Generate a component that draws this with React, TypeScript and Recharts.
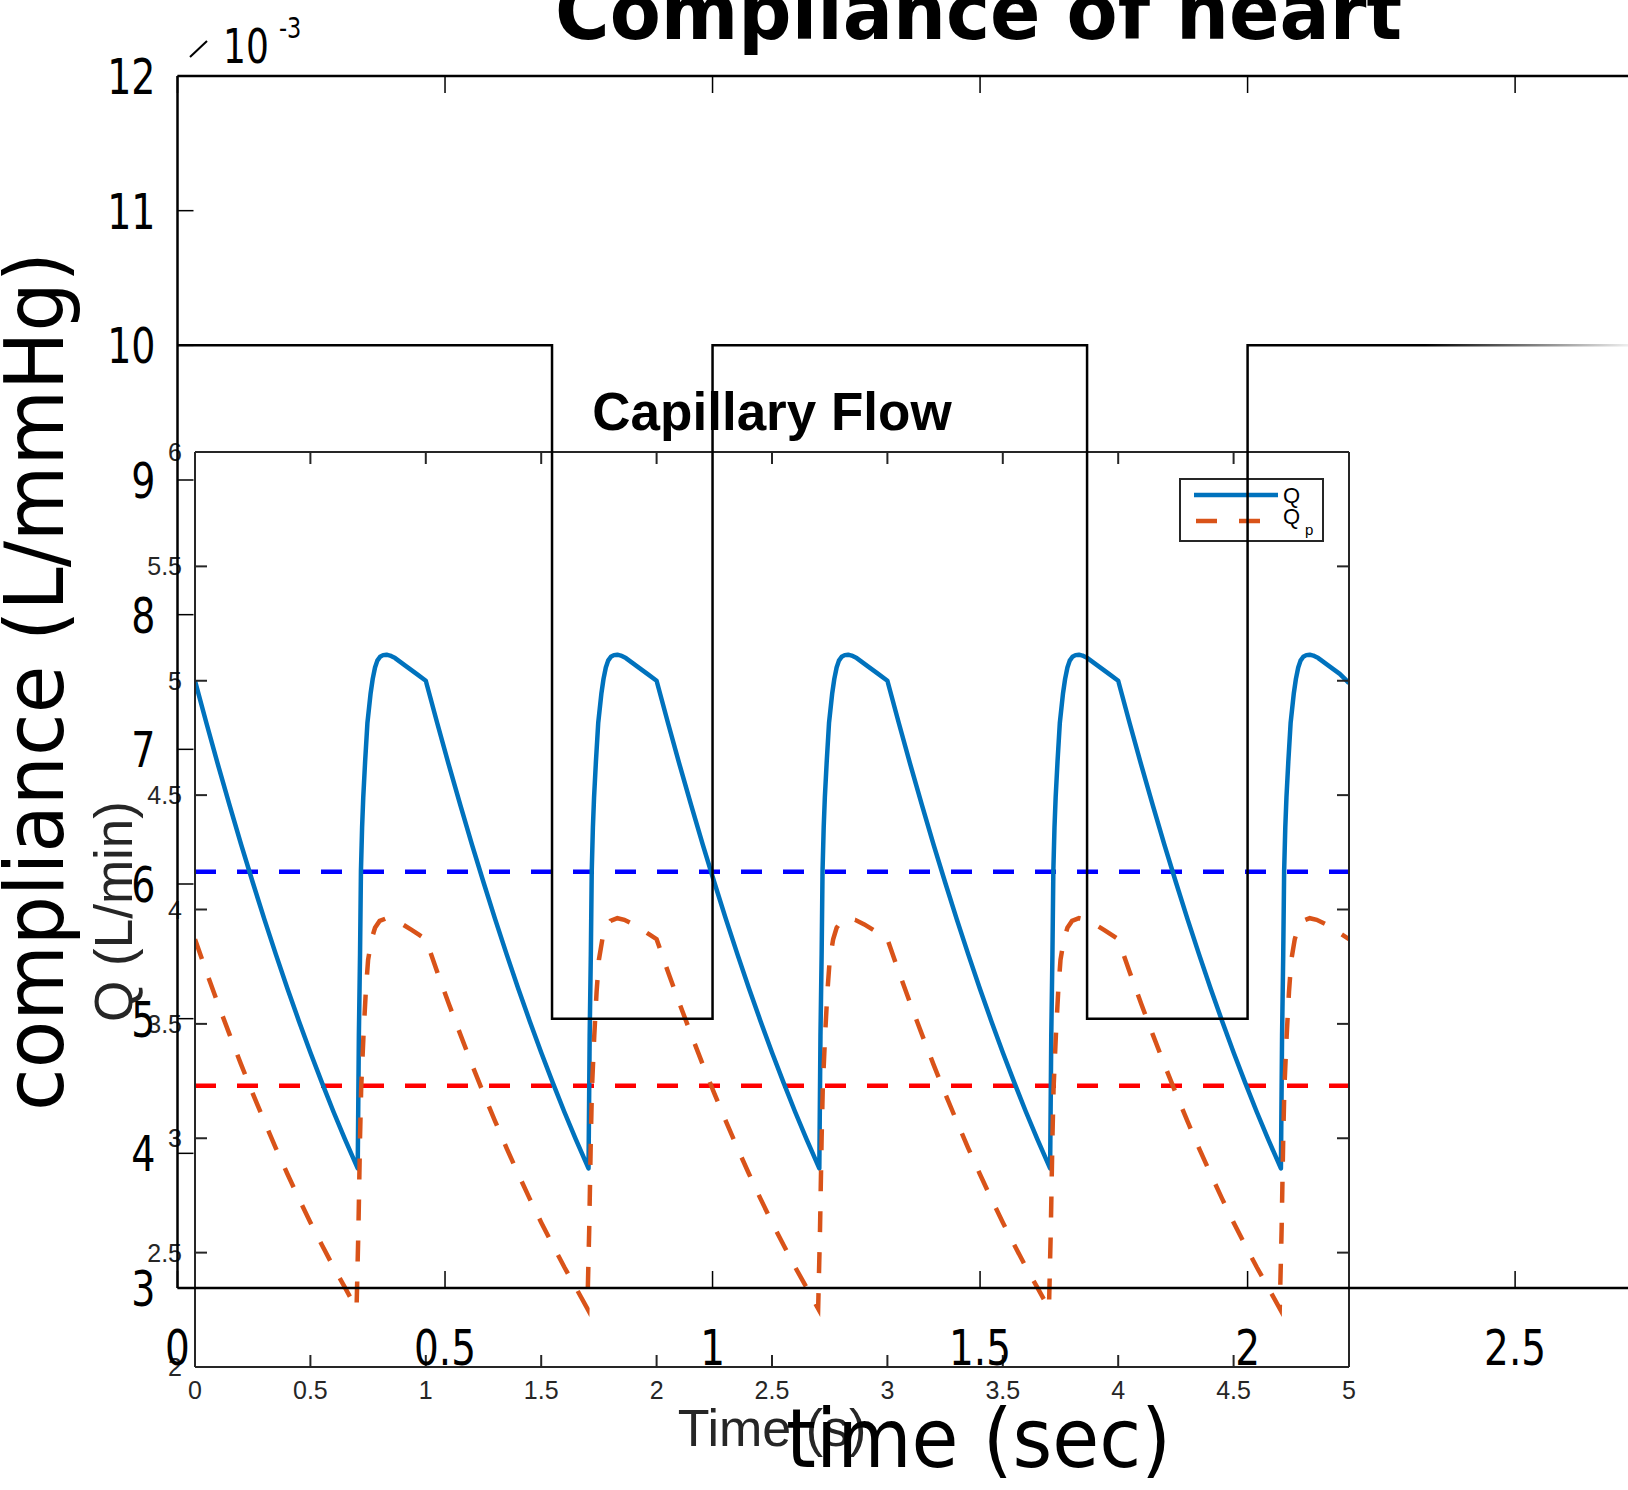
import React from 'react';
import { LineChart, Line, XAxis, YAxis, ReferenceLine } from 'recharts';

const W = 1628;
const H = 1490;

// ---------- inner chart: Capillary Flow ----------
const cycleStarts = [0, 1, 2, 3, 4];
const qPeriodT = [0, 0.05, 0.1, 0.15, 0.2, 0.25, 0.3, 0.35, 0.4, 0.45, 0.5, 0.55, 0.6, 0.65, 0.705, 0.71, 0.715, 0.719, 0.724, 0.729, 0.737, 0.747, 0.761, 0.77, 0.78, 0.79, 0.802, 0.815, 0.83, 0.845, 0.867, 0.917, 0.96];
const qPeriodV = [5.0, 4.813, 4.631, 4.455, 4.284, 4.119, 3.959, 3.805, 3.656, 3.513, 3.375, 3.243, 3.116, 2.995, 2.868, 3.45, 3.8, 4.17, 4.36, 4.49, 4.645, 4.815, 4.946, 5.008, 5.058, 5.088, 5.105, 5.112, 5.114, 5.11, 5.099, 5.062, 5.03];
const qpPeriodT = [0, 0.05, 0.1, 0.15, 0.2, 0.25, 0.3, 0.35, 0.4, 0.45, 0.5, 0.55, 0.6, 0.65, 0.7, 0.708, 0.715, 0.72, 0.73, 0.74, 0.75, 0.765, 0.78, 0.8, 0.83, 0.86, 0.9, 0.94, 0.97];
const qpPeriodV = [3.87, 3.726, 3.587, 3.453, 3.322, 3.196, 3.075, 2.957, 2.845, 2.736, 2.632, 2.533, 2.437, 2.347, 2.255, 2.6, 3.0, 3.22, 3.45, 3.64, 3.78, 3.87, 3.92, 3.95, 3.962, 3.955, 3.935, 3.91, 3.89];
const endTime = 5;
const qEndValue = 4.99;
const qpEndValue = 3.87;
const qMeanLevel = 4.165;
const qpMeanLevel = 3.229;
const innerXTicks = [0, 0.5, 1, 1.5, 2, 2.5, 3, 3.5, 4, 4.5, 5];
const innerYTicks = [2, 2.5, 3, 3.5, 4, 4.5, 5, 5.5, 6];

// ---------- outer chart: Compliance of heart ----------
const complianceTimes = [0, 0.7, 1.0, 1.7, 2.0, 2.711];
const complianceValues = [10, 5, 10, 5, 10, 10];
const outerXTicks = [0, 0.5, 1, 1.5, 2, 2.5];
const outerYTicks = [3, 4, 5, 6, 7, 8, 9, 10, 11, 12];

function buildSeries(times: number[], values: number[], endV: number) {
  const out: { t: number; v: number }[] = [];
  cycleStarts.forEach((c) => {
    times.forEach((s, i) => {
      out.push({ t: Math.round((c + s) * 1000) / 1000, v: values[i] });
    });
  });
  out.push({ t: endTime, v: endV });
  return out;
}
const qData = buildSeries(qPeriodT, qPeriodV, qEndValue);
const qpData = buildSeries(qpPeriodT, qpPeriodV, qpEndValue);
const complianceData = complianceTimes.map((t, i) => ({ t, c: complianceValues[i] }));

const INNER_FONT = '"Liberation Sans", Arial, Helvetica, sans-serif';
const OUTER_FONT = '"DejaVu Sans", sans-serif';
const INK = '#262626';

const innerLeftTick = (p: any) => (
  <g>
    <line x1={p.x} y1={p.y} x2={p.x + 12} y2={p.y} stroke={INK} strokeWidth={2} />
    <text x={p.x - 13} y={p.y + 9} textAnchor="end" fontSize={25} fontFamily={INNER_FONT} fill={INK}>
      {String(p.payload.value)}
    </text>
  </g>
);
const innerBottomTick = (p: any) => (
  <g>
    <line x1={p.x} y1={p.y} x2={p.x} y2={p.y - 12} stroke={INK} strokeWidth={2} />
    <text x={p.x} y={p.y + 32} textAnchor="middle" fontSize={25} fontFamily={INNER_FONT} fill={INK}>
      {String(p.payload.value)}
    </text>
  </g>
);
const innerTopTick = (p: any) => (
  <line x1={p.x} y1={p.y} x2={p.x} y2={p.y + 12} stroke={INK} strokeWidth={2} />
);
const innerRightTick = (p: any) => (
  <line x1={p.x} y1={p.y} x2={p.x - 12} y2={p.y} stroke={INK} strokeWidth={2} />
);

const outerLeftTick = (p: any) => (
  <g>
    <line x1={p.x} y1={p.y} x2={p.x + 16} y2={p.y} stroke="#000" strokeWidth={1.5} />
    <text
      transform={`translate(${p.x - 22},${p.y + 18}) scale(0.76,1)`}
      textAnchor="end"
      fontSize={50}
      fontFamily={OUTER_FONT}
      fill="#000"
    >
      {String(p.payload.value)}
    </text>
  </g>
);
const outerBottomTick = (p: any) => (
  <g>
    <line x1={p.x} y1={p.y} x2={p.x} y2={p.y - 17} stroke="#000" strokeWidth={1.5} />
    <text
      transform={`translate(${p.x},${p.y + 77}) scale(0.78,1)`}
      textAnchor="middle"
      fontSize={50}
      fontFamily={OUTER_FONT}
      fill="#000"
    >
      {String(p.payload.value)}
    </text>
  </g>
);
const outerTopTick = (p: any) => (
  <line x1={p.x} y1={p.y} x2={p.x} y2={p.y + 17} stroke="#000" strokeWidth={1.5} />
);

const layer: React.CSSProperties = { position: 'absolute', left: 0, top: 0, width: W, height: H };

export default function App() {
  return (
    <div style={{ position: 'absolute', left: 0, top: 0, width: W, height: H, overflow: 'hidden', background: '#fff' }}>
      <svg width={0} height={0} style={{ position: 'absolute' }}>
        <defs>
          <linearGradient id="outerFade" x1="0" y1="0" x2="1" y2="0">
            <stop offset="0" stopColor="#000" />
            <stop offset="0.86" stopColor="#000" />
            <stop offset="1" stopColor="#eee" />
          </linearGradient>
        </defs>
      </svg>

      {/* inner chart */}
      <div style={layer}>
        <LineChart width={W} height={H} margin={{ top: 442, right: 269, bottom: 63, left: 0 }}>
          <XAxis
            xAxisId="b"
            dataKey="t"
            type="number"
            domain={[0, 5]}
            ticks={innerXTicks}
            interval={0}
            height={60}
            tickSize={0}
            tickMargin={0}
            tickLine={false}
            axisLine={{ stroke: INK, strokeWidth: 2 }}
            tick={innerBottomTick}
            allowDataOverflow
          />
          <XAxis
            xAxisId="t"
            orientation="top"
            dataKey="t"
            type="number"
            domain={[0, 5]}
            ticks={innerXTicks}
            interval={0}
            height={10}
            tickSize={0}
            tickMargin={0}
            tickLine={false}
            axisLine={{ stroke: INK, strokeWidth: 2 }}
            tick={innerTopTick}
            allowDataOverflow
          />
          <YAxis
            yAxisId="l"
            type="number"
            domain={[2, 6]}
            ticks={innerYTicks}
            interval={0}
            width={195}
            tickSize={0}
            tickMargin={0}
            tickLine={false}
            axisLine={{ stroke: INK, strokeWidth: 2 }}
            tick={innerLeftTick}
            allowDataOverflow
          />
          <YAxis
            yAxisId="r"
            orientation="right"
            type="number"
            domain={[2, 6]}
            ticks={innerYTicks}
            interval={0}
            width={10}
            tickSize={0}
            tickMargin={0}
            tickLine={false}
            axisLine={{ stroke: INK, strokeWidth: 2 }}
            tick={innerRightTick}
            allowDataOverflow
          />
          <ReferenceLine xAxisId="b" yAxisId="l" y={qMeanLevel} stroke="#0000FF" strokeWidth={4.5} strokeDasharray="21 21" />
          <ReferenceLine xAxisId="b" yAxisId="l" y={qpMeanLevel} stroke="#FF0000" strokeWidth={4.5} strokeDasharray="21 21" />
          <Line
            xAxisId="b"
            yAxisId="l"
            data={qData}
            dataKey="v"
            type="linear"
            stroke="#0072BD"
            strokeWidth={4.5}
            strokeLinejoin="round"
            dot={false}
            isAnimationActive={false}
          />
          <Line
            xAxisId="b"
            yAxisId="l"
            data={qpData}
            dataKey="v"
            type="linear"
            stroke="#D95319"
            strokeWidth={4.5}
            strokeDasharray="21 20"
            dot={false}
            isAnimationActive={false}
          />
        </LineChart>
      </div>

      {/* inner texts & legend */}
      <svg width={W} height={H} style={layer}>
        <text x={772} y={430} textAnchor="middle" fontSize={53} fontWeight="bold" fontFamily={INNER_FONT} fill="#000">
          Capillary Flow
        </text>
        <text transform="translate(132,911.5) rotate(-90)" textAnchor="middle" fontSize={53} fontFamily={INNER_FONT} fill={INK}>
          Q (L/min)
        </text>
        <text x={772} y={1446} textAnchor="middle" fontSize={52} fontFamily={INNER_FONT} fill={INK}>
          Time (s)
        </text>
        <rect x={1180} y={479} width={143} height={62} fill="#fff" stroke={INK} strokeWidth={2} />
        <line x1={1194} y1={495} x2={1278} y2={495} stroke="#0072BD" strokeWidth={4.5} />
        <line x1={1196} y1={521} x2={1260} y2={521} stroke="#D95319" strokeWidth={4.5} strokeDasharray="21 22" />
        <text x={1283} y={503} fontSize={22} fontFamily={INNER_FONT} fill="#000">Q</text>
        <text x={1283} y={524} fontSize={22} fontFamily={INNER_FONT} fill="#000">Q</text>
        <text x={1305} y={535} fontSize={15} fontFamily={INNER_FONT} fill="#000">p</text>
      </svg>

      {/* outer chart */}
      <div style={layer}>
        <LineChart width={W} height={H} margin={{ top: 75, right: 0, bottom: 142, left: 0 }}>
          <XAxis
            xAxisId="b"
            dataKey="t"
            type="number"
            domain={[0, 2.711]}
            ticks={outerXTicks}
            interval={0}
            height={60}
            tickSize={0}
            tickMargin={0}
            tickLine={false}
            axisLine={{ stroke: '#000', strokeWidth: 2.5 }}
            tick={outerBottomTick}
            allowDataOverflow
          />
          <XAxis
            xAxisId="t"
            orientation="top"
            dataKey="t"
            type="number"
            domain={[0, 2.711]}
            ticks={outerXTicks}
            interval={0}
            height={1}
            tickSize={0}
            tickMargin={0}
            tickLine={false}
            axisLine={{ stroke: '#000', strokeWidth: 2.5 }}
            tick={outerTopTick}
            allowDataOverflow
          />
          <YAxis
            yAxisId="l"
            type="number"
            domain={[3, 12]}
            ticks={outerYTicks}
            interval={0}
            width={177.5}
            tickSize={0}
            tickMargin={0}
            tickLine={false}
            axisLine={{ stroke: '#000', strokeWidth: 2.5 }}
            tick={outerLeftTick}
            allowDataOverflow
          />
          <Line
            xAxisId="b"
            yAxisId="l"
            data={complianceData}
            dataKey="c"
            type="stepAfter"
            stroke="url(#outerFade)"
            strokeWidth={2.5}
            dot={false}
            isAnimationActive={false}
          />
        </LineChart>
      </div>

      {/* outer texts */}
      <svg width={W} height={H} style={layer}>
        <text
          x={978.5}
          y={38.5}
          textAnchor="middle"
          fontSize={78}
          fontWeight="bold"
          fontFamily={OUTER_FONT}
          fill="#000"
          textLength={847}
          lengthAdjust="spacingAndGlyphs"
        >
          Compliance of heart
        </text>
        <text
          transform="translate(63,681.5) rotate(-90)"
          textAnchor="middle"
          fontSize={82}
          fontFamily={OUTER_FONT}
          fill="#000"
          textLength={859}
          lengthAdjust="spacingAndGlyphs"
        >
          compliance (L/mmHg)
        </text>
        <text
          x={978.5}
          y={1467}
          textAnchor="middle"
          fontSize={82}
          fontFamily={OUTER_FONT}
          fill="#000"
          textLength={385}
          lengthAdjust="spacingAndGlyphs"
        >
          time (sec)
        </text>
        <line x1={190} y1={57} x2={207} y2={41} stroke="#000" strokeWidth={2} />
        <text transform="translate(223,63) scale(0.75,1)" fontSize={48} fontFamily={OUTER_FONT} fill="#000">10</text>
        <text transform="translate(279,38) scale(0.8,1)" fontSize={28} fontFamily={OUTER_FONT} fill="#000">-3</text>
      </svg>
    </div>
  );
}
